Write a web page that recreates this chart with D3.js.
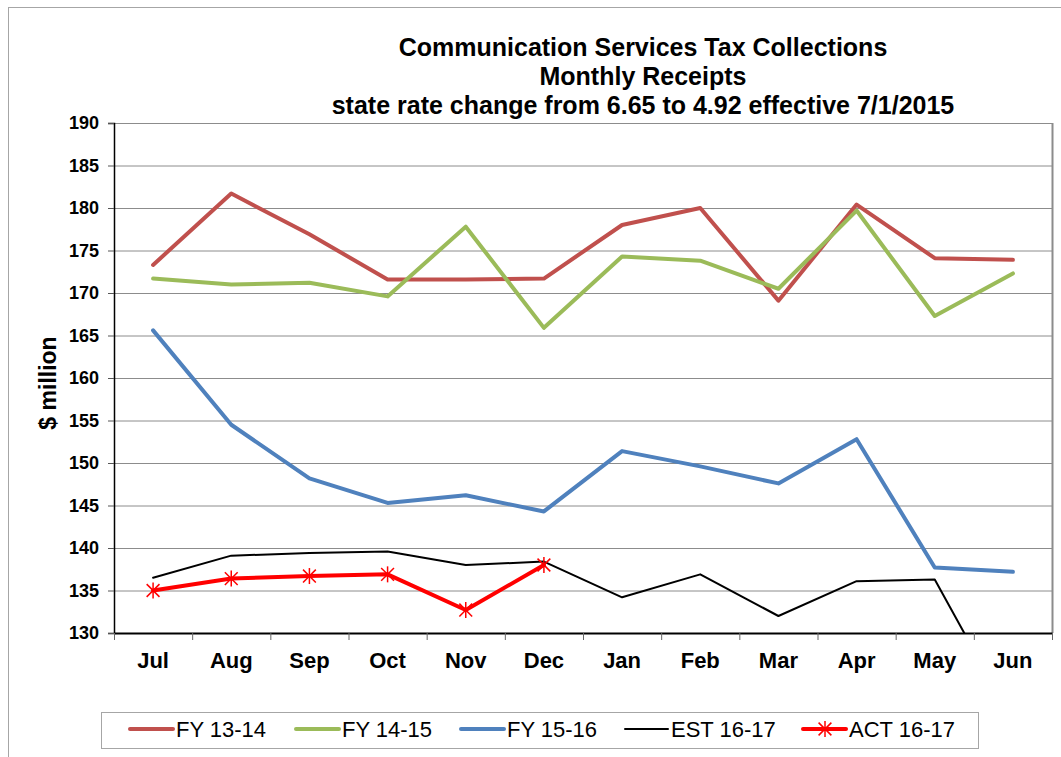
<!DOCTYPE html>
<html>
<head>
<meta charset="utf-8">
<script src="https://cdn.jsdelivr.net/npm/d3@7"></script>
<style>
  body { margin: 0; background: #fff; }
  svg { font-family: "Liberation Sans", Arial, sans-serif; }
</style>
</head>
<body>
<div id="chart"></div>
<script>
// Monthly receipts, $ million
const months = ["Jul", "Aug", "Sep", "Oct", "Nov", "Dec", "Jan", "Feb", "Mar", "Apr", "May", "Jun"];
const fy1314 = [173.3, 181.7, 176.9, 171.6, 171.6, 171.7, 178.0, 180.0, 169.1, 180.4, 174.1, 173.9];
const fy1415 = [171.7, 171.0, 171.2, 169.6, 177.8, 165.9, 174.3, 173.8, 170.5, 179.7, 167.3, 172.3];
const fy1516 = [165.6, 154.5, 148.2, 145.3, 146.2, 144.3, 151.4, 149.6, 147.6, 152.8, 137.7, 137.2];
const est1617 = [136.5, 139.1, 139.4, 139.6, 138.0, 138.4, 134.2, 136.9, 132.0, 136.1, 136.3, 119.6];
const act1617 = [135.0, 136.4, 136.7, 136.9, 132.7, 138.0];
const yTicks = [130, 135, 140, 145, 150, 155, 160, 165, 170, 175, 180, 185, 190];

const titleLines = [
    "Communication Services Tax Collections",
    "Monthly Receipts",
    "state rate change from 6.65 to 4.92 effective 7/1/2015"
];

const series = [
    { name: "FY 13-14", values: fy1314, color: "#C0504D", width: 4 },
    { name: "FY 14-15", values: fy1415, color: "#9BBB59", width: 4 },
    { name: "FY 15-16", values: fy1516, color: "#4F81BD", width: 4 },
    { name: "EST 16-17", values: est1617, color: "#000000", width: 2 },
    { name: "ACT 16-17", values: act1617, color: "#FF0000", width: 4, marker: true }
];

const width = 1061, height = 757;
const plot = { left: 114, right: 1052, top: 123, bottom: 633 };

const svg = d3.select("#chart")
    .append("svg")
    .attr("width", width)
    .attr("height", height);

// outer chart border
svg.append("rect")
    .attr("x", 8.5).attr("y", 7.5)
    .attr("width", 1070).attr("height", 770)
    .attr("fill", "none")
    .attr("stroke", "#a6a6a6");

svg.append("g")
    .selectAll("text")
    .data(titleLines)
    .join("text")
    .attr("x", 643)
    .attr("y", (d, i) => 56 + i * 29)
    .attr("text-anchor", "middle")
    .attr("font-size", "25px")
    .attr("font-weight", "bold")
    .text(d => d);

const x = d3.scaleBand().domain(months).range([plot.left, plot.right]);
const y = d3.scaleLinear().domain([130, 190]).range([plot.bottom, plot.top]);

// gridlines
svg.append("g")
    .selectAll("line")
    .data(yTicks)
    .join("line")
    .attr("x1", plot.left).attr("x2", plot.right)
    .attr("y1", d => y(d) + 0.5).attr("y2", d => y(d) + 0.5)
    .attr("stroke", "#8c8c8c")
    .attr("stroke-width", 1);

// right border of plot
svg.append("line")
    .attr("x1", plot.right + 0.5).attr("x2", plot.right + 0.5)
    .attr("y1", plot.top).attr("y2", plot.bottom)
    .attr("stroke", "#8c8c8c")
    .attr("stroke-width", 2);

// y axis
const yAxis = svg.append("g")
    .attr("transform", `translate(${plot.left},0)`)
    .call(d3.axisLeft(y).tickValues(yTicks).tickSize(6).tickPadding(9));
yAxis.select(".domain").attr("stroke", "#000").attr("stroke-width", 1.5);
yAxis.selectAll(".tick line").attr("stroke", "#555");
yAxis.selectAll(".tick text")
    .attr("font-size", "18px")
    .attr("font-weight", "bold")
    .attr("fill", "#000")
    .attr("font-family", "Liberation Sans, Arial, sans-serif");

// x axis: ticks on band boundaries, labels at centers
const xAxis = svg.append("g")
    .attr("transform", `translate(0,${plot.bottom})`)
    .call(d3.axisBottom(x).tickSize(0).tickPadding(19));
xAxis.select(".domain").attr("stroke", "#000").attr("stroke-width", 2);
xAxis.selectAll(".tick text")
    .attr("font-size", "22px")
    .attr("font-weight", "bold")
    .attr("fill", "#000")
    .attr("font-family", "Liberation Sans, Arial, sans-serif");
xAxis.selectAll(".boundary")
    .data(months.map(m => x(m)).concat([plot.right]))
    .join("line")
    .attr("class", "boundary")
    .attr("x1", d => d + 0.5).attr("x2", d => d + 0.5)
    .attr("y1", 0).attr("y2", 7)
    .attr("stroke", "#666");

svg.append("text")
    .attr("transform", `translate(56,383) rotate(-90)`)
    .attr("text-anchor", "middle")
    .attr("font-size", "23px")
    .attr("font-weight", "bold")
    .text("$ million");

svg.append("clipPath").attr("id", "plot-clip")
    .append("rect")
    .attr("x", plot.left).attr("y", plot.top)
    .attr("width", plot.right - plot.left).attr("height", plot.bottom - plot.top);

const line = d3.line()
    .x((d, i) => x(months[i]) + x.bandwidth() / 2)
    .y(d => y(d));

const lines = svg.append("g").attr("clip-path", "url(#plot-clip)");
series.forEach(s => {
    lines.append("path")
        .datum(s.values)
        .attr("d", line)
        .attr("fill", "none")
        .attr("stroke", s.color)
        .attr("stroke-width", s.width)
        .attr("stroke-linejoin", "round")
        .attr("stroke-linecap", "round");
});

// asterisk marker
function star(g, cx, cy, r, color) {
    const a = r * 0.8;
    [[-a, -a, a, a], [-a, a, a, -a], [0, -r, 0, r]].forEach(p => {
        g.append("line")
            .attr("x1", cx + p[0]).attr("y1", cy + p[1])
            .attr("x2", cx + p[2]).attr("y2", cy + p[3])
            .attr("stroke", color)
            .attr("stroke-width", 1.5);
    });
}
const markers = svg.append("g");
act1617.forEach((v, i) => star(markers, x(months[i]) + x.bandwidth() / 2, y(v), 8, "#FF0000"));

// legend
const legend = svg.append("g");
legend.append("rect")
    .attr("x", 101.5).attr("y", 712.5)
    .attr("width", 877).attr("height", 36)
    .attr("fill", "#fff")
    .attr("stroke", "#a6a6a6");

const legendX = [130, 296, 461, 625, 803];
series.forEach((s, i) => {
    const lx = legendX[i];
    legend.append("line")
        .attr("x1", lx).attr("x2", lx + 43)
        .attr("y1", 729).attr("y2", 729)
        .attr("stroke", s.color)
        .attr("stroke-width", s.width)
        .attr("stroke-linecap", "round");
    if (s.marker) star(legend, lx + 22, 729, 8, s.color);
    legend.append("text")
        .attr("x", lx + 46)
        .attr("y", 737)
        .attr("font-size", "22px")
        .text(s.name);
});
</script>
</body>
</html>
